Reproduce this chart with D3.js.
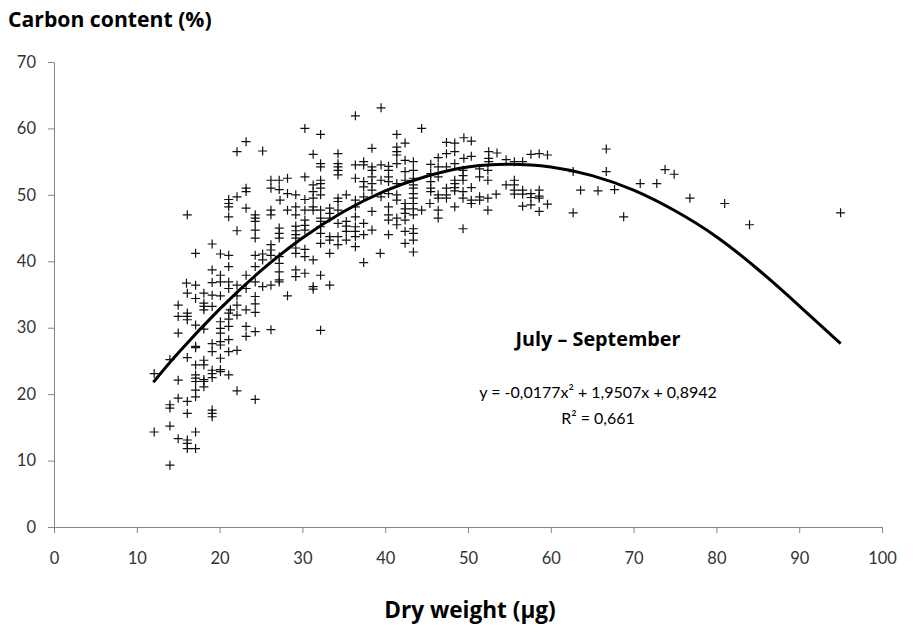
<!DOCTYPE html>
<html>
<head>
<meta charset="utf-8">
<script src="https://cdn.jsdelivr.net/npm/d3@7.9.0/dist/d3.min.js"></script>
<style>
  body { margin: 0; background: #fff; }
  svg { display: block; font-family: Lato, "Open Sans", sans-serif; }
  .title { font-family: "Open Sans", sans-serif; font-weight: bold; }
</style>
</head>
<body>
<div id="chart"></div>
<script>
// [dry weight (µg), carbon content (%)]
const samples = [
  [16.1,47.0],[19.1,42.6],[17.1,41.2],[20.1,41.1],[19.1,38.7],[20.1,37.9],[16.0,36.7],[17.1,36.4],[19.1,36.8],[20.1,36.9],
  [16.1,35.2],[17.1,34.4],[18.1,35.2],[19.1,34.9],[20.1,34.8],[15.0,33.4],[18.1,33.7],[18.1,33.2],[18.1,32.7],[19.1,33.2],
  [15.0,31.7],[16.1,32.2],[16.1,31.7],[16.1,31.2],[21.3,32.7],[20.1,30.9],[17.1,30.4],[18.1,29.8],[20.1,29.9],[20.1,29.2],
  [15.0,29.2],[20.1,27.9],[17.1,27.2],[17.1,27.0],[19.1,27.6],[19.1,26.4],[20.1,27.4],[14.0,25.2],[16.1,25.5],
  [17.1,24.4],[18.1,25.1],[18.1,24.4],[20.1,25.4],[20.1,23.7],[19.1,23.6],[19.1,23.1],[20.1,23.4],[12.1,23.1],[15.0,22.1],
  [17.1,22.9],[17.1,22.4],[18.1,22.2],[17.1,21.9],[18.1,21.9],[19.1,22.5],[18.1,21.1],[17.1,20.6],[17.1,19.6],
  [15.0,19.4],[16.1,18.9],[14.0,18.4],[14.0,17.9],[16.1,17.1],[19.1,17.6],[19.1,17.1],[19.1,16.6],
  [12.1,14.3],[14.0,15.2],[17.1,14.3],[15.0,13.3],[16.1,13.1],[16.1,12.6],[16.1,11.8],[17.1,11.8],[14.0,9.3],
  [30.3,60.0],[32.2,59.1],[23.2,58.0],[22.1,56.5],[25.2,56.6],[31.3,56.1],[32.2,54.7],[32.2,54.2],
  [26.2,52.2],[27.2,52.2],[28.2,52.5],[30.3,52.7],[32.2,52.2],[26.2,51.0],[27.2,50.8],[23.2,51.0],[23.2,50.5],
  [22.1,49.7],[21.1,49.3],[21.1,48.7],[21.1,48.2],[28.2,50.2],[29.2,50.0],[30.3,49.3],[31.3,51.5],[31.3,50.5],[32.2,51.0],
  [31.3,49.5],[32.2,50.0],[27.3,49.2],[21.1,46.7],[23.2,48.0],
  [24.3,47.0],[24.3,46.5],[24.3,46.0],[26.2,47.7],[26.2,47.0],[28.2,47.7],[29.2,48.2],[29.2,47.0],[30.3,47.7],[31.3,48.2],
  [31.3,47.7],[32.2,46.5],[32.2,46.0],
  [22.1,44.6],[24.3,44.7],[24.3,43.5],[27.2,45.0],[27.2,44.2],[27.2,43.5],[29.2,45.3],[29.2,44.6],[29.2,44.0],[29.2,43.5],
  [30.3,46.2],[30.3,45.4],[30.3,44.7],[32.2,45.2],[32.2,42.7],
  [26.2,42.5],[26.2,41.7],[27.2,40.7],[27.2,39.7],[29.2,42.0],[29.2,41.2],[30.3,41.8],[30.3,40.7],[31.3,40.2],
  [21.1,40.9],[21.1,39.2],[23.2,37.9],[24.3,40.9],[24.3,39.2],[25.2,41.1],[25.2,40.2],[26.2,40.9],
  [27.2,38.4],[27.2,37.2],[29.2,38.7],[29.2,37.7],[30.3,38.2],[32.2,37.9],[31.3,36.2],
  [21.1,36.9],[21.1,35.9],[22.1,36.4],[23.2,35.9],[24.3,36.9],[25.2,36.2],[26.2,36.4],[27.2,36.9],[28.2,34.8],[31.3,35.8],
  [22.1,34.8],[24.3,34.7],[24.3,33.6],[22.1,33.4],[23.2,32.7],[24.3,32.3],[21.1,32.2],[22.1,31.9],[21.1,31.3],[21.1,30.2],
  [23.2,30.2],[23.2,28.7],[24.3,29.4],[26.2,29.7],[32.2,29.6],[21.1,28.2],[21.1,26.4],[22.1,26.6],[21.1,22.9],[22.1,20.5],
  [24.3,19.2],
  [36.4,61.9],[39.5,63.1],[41.4,59.1],[42.4,57.8],[41.4,57.2],[41.4,56.5],[41.4,56.0],[42.4,55.2],[38.4,57.0],[34.3,56.2],
  [43.4,55.0],[34.3,54.7],[34.3,54.2],[34.3,53.7],[34.3,53.0],[36.4,54.5],[37.4,55.0],[37.4,54.5],[38.4,54.2],[38.4,53.7],
  [39.5,54.5],[40.4,54.3],[40.4,53.7],[41.4,54.7],[42.4,53.5],[43.4,53.7],
  [32.2,51.7],[36.4,52.5],[37.4,52.0],[37.4,51.2],[38.4,52.7],[38.4,51.7],[38.4,50.7],[39.5,52.2],[40.4,52.7],[40.4,52.0],
  [41.4,51.7],[42.4,52.2],
  [34.3,49.5],[34.3,49.0],[35.3,50.0],[36.4,49.2],[36.4,48.2],[37.4,49.7],[39.5,49.7],[40.4,50.2],[40.4,48.2],[41.4,50.0],
  [41.4,49.2],[42.4,48.7],[42.4,47.9],[32.2,47.7],[33.3,48.0],[33.3,47.2],[34.3,47.7],[36.4,46.7],[38.4,47.5],[40.4,47.0],
  [41.4,46.5],[41.4,45.5],[42.4,47.2],[42.4,46.2],[43.4,47.0],
  [33.3,46.5],[34.3,45.7],[35.3,46.0],[35.3,45.3],[35.3,44.5],[36.4,45.2],[36.4,44.5],[37.4,45.7],[38.4,44.7],[37.4,44.0],
  [40.4,46.2],[42.4,44.5],[43.4,44.9],[43.4,44.2],
  [32.2,44.2],[33.3,43.7],[33.3,43.2],[34.3,43.7],[34.3,42.5],[35.3,43.2],[36.4,43.7],[36.4,42.2],[39.4,41.2],[40.4,44.0],
  [42.4,42.7],[43.4,43.2],[43.4,41.4],[33.3,41.2],[37.4,39.8],[33.3,36.4],
  [44.4,60.0],[47.4,57.9],[48.4,57.8],[48.4,56.5],[49.5,58.6],[50.4,58.1],[47.4,56.2],[46.4,55.6],[50.4,55.8],[49.5,55.5],
  [52.5,56.5],[53.5,56.3],[52.5,55.5],[52.5,55.0],
  [45.5,54.6],[46.4,54.2],[47.4,54.2],[48.4,54.7],[49.4,53.7],[49.4,52.9],[49.4,52.2],[51.4,53.9],[52.4,53.7],[51.4,52.7],
  [52.4,52.2],[45.5,53.2],[46.4,52.7],[45.5,52.0],[45.5,51.0],[45.5,50.5],[43.4,52.5],
  [43.4,51.5],[43.4,51.0],[43.4,50.2],[43.4,49.5],[43.4,48.7],[43.4,47.9],
  [48.4,52.2],[48.4,51.7],[48.4,51.1],[48.4,50.6],[47.4,51.0],[50.4,51.1],[49.4,50.5],[49.4,49.5],[50.4,49.2],[50.4,48.7],
  [51.4,49.7],[51.4,49.2],[52.4,49.5],[53.4,50.1],[52.4,47.7],[46.4,50.0],[46.4,49.5],[47.4,50.0],[47.4,49.5],[46.4,47.7],
  [46.4,46.5],[45.4,48.7],[44.4,47.7],[48.4,48.2],[49.4,44.9],
  [54.6,55.3],[55.6,55.0],[56.6,55.0],[57.6,56.1],[58.6,56.2],[59.6,56.0],[62.7,53.5],[63.6,50.7],[65.7,50.6],[62.7,47.3],
  [55.6,52.2],[54.6,51.5],[55.6,51.5],[55.6,50.7],[56.6,50.7],[55.6,50.1],[56.6,50.1],[57.6,50.2],[58.6,50.7],
  [58.6,49.8],[57.6,49.6],[58.6,49.5],[56.6,48.3],[57.6,48.5],[59.6,48.6],[58.6,47.5],
  [66.7,56.9],[66.7,53.5],[67.7,50.8],[68.8,46.7],[70.8,51.7],[72.8,51.7],[73.8,53.8],[74.9,53.1],[76.8,49.5],[81.0,48.7],
  [84.0,45.5],[95.0,47.3]
];

// points
const fitX = [12, 15, 20, 25, 30, 35, 40, 45, 50, 55, 60, 65, 70, 75, 80, 85, 90, 95];
const fitY = [21.8, 26.2, 32.8, 38.6, 43.5, 47.5, 50.6, 52.8, 54.2, 54.6, 54.2, 52.9, 50.7, 47.6, 43.7, 38.8, 33.3, 27.6];

const xTicks = [0, 10, 20, 30, 40, 50, 60, 70, 80, 90, 100];
const yTicks = [0, 10, 20, 30, 40, 50, 60, 70];

const seasonLabel = "July – September";
const equationLabel = "y = -0,0177x² + 1,9507x + 0,8942";
const r2Label = "R² = 0,661";

const width = 913;
const height = 632;
const plot = { left: 54, right: 882, top: 62, bottom: 527 };

const svg = d3.select("#chart")
  .append("svg")
  .attr("width", width)
  .attr("height", height);

const x = d3.scaleLinear().domain([0, 100]).range([plot.left, plot.right]);
const y = d3.scaleLinear().domain([0, 70]).range([plot.bottom, plot.top]);

const axisColor = "#868686";
const labelColor = "#333";

// y axis
const yAxis = svg.append("g")
  .attr("transform", `translate(${plot.left},0)`)
  .call(d3.axisLeft(y).tickValues(yTicks).tickSize(6).tickSizeOuter(0).tickPadding(12));

// x axis
const xAxis = svg.append("g")
  .attr("transform", `translate(0,${plot.bottom})`)
  .call(d3.axisBottom(x).tickValues(xTicks).tickSize(6).tickSizeOuter(0).tickPadding(19));

[xAxis, yAxis].forEach(g => {
  g.select(".domain").attr("stroke", axisColor);
  g.selectAll(".tick line").attr("stroke", axisColor);
  g.selectAll(".tick text")
    .attr("fill", labelColor)
    .style("font-size", "16.5px")
    .style("font-family", "Lato, sans-serif");
});

// scatter markers
const plus = "M-4.5,0H4.5M0,-4.5V4.5";
svg.append("g")
  .selectAll("path")
  .data(samples)
  .join("path")
  .attr("d", plus)
  .attr("transform", d => `translate(${x(d[0])},${y(d[1])})`)
  .attr("stroke", "#111")
  .attr("stroke-width", 1.2)
  .attr("fill", "none");

// trend curve
const line = d3.line()
  .x(d => x(d[0]))
  .y(d => y(d[1]))
  .curve(d3.curveNatural);

svg.append("path")
  .datum(fitX.map((v, i) => [v, fitY[i]]))
  .attr("d", line)
  .attr("fill", "none")
  .attr("stroke", "#000")
  .attr("stroke-width", 3);

// titles
svg.append("text")
  .attr("class", "title")
  .attr("x", 8)
  .attr("y", 27)
  .style("font-size", "21.2px")
  .attr("fill", "#000")
  .text("Carbon content (%)");

svg.append("text")
  .attr("class", "title")
  .attr("x", 470)
  .attr("y", 618)
  .attr("text-anchor", "middle")
  .style("font-size", "22.6px")
  .attr("fill", "#000")
  .text("Dry weight (µg)");

// annotation
svg.append("text")
  .attr("class", "title")
  .attr("x", 598)
  .attr("y", 346)
  .attr("text-anchor", "middle")
  .style("font-size", "19.8px")
  .attr("fill", "#000")
  .text(seasonLabel);

svg.append("text")
  .attr("x", 598)
  .attr("y", 398)
  .attr("text-anchor", "middle")
  .style("font-size", "16px")
  .attr("fill", "#000")
  .text(equationLabel);

svg.append("text")
  .attr("x", 598)
  .attr("y", 424)
  .attr("text-anchor", "middle")
  .style("font-size", "16px")
  .attr("fill", "#000")
  .text(r2Label);
</script>
</body>
</html>
